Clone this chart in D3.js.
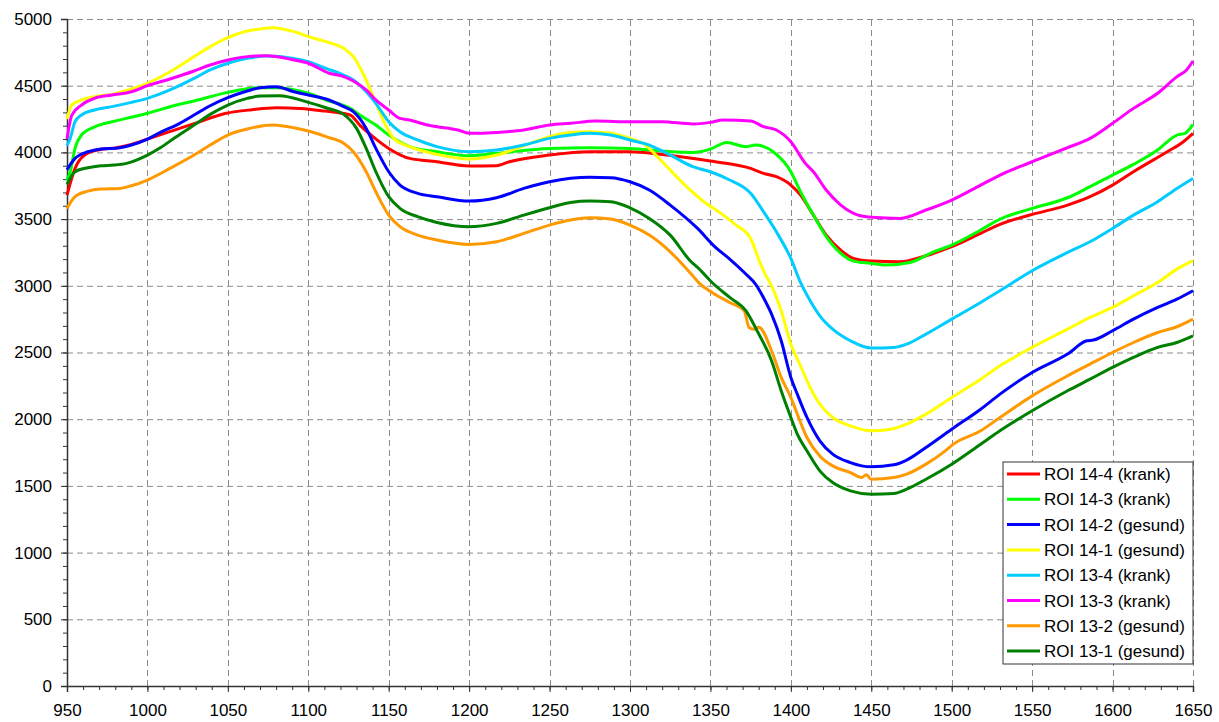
<!DOCTYPE html>
<html>
<head>
<meta charset="utf-8">
<script src="https://cdn.jsdelivr.net/npm/d3@7"></script>
<style>
  body { margin: 0; background: #fff; }
  svg { display: block; font-family: Arial, "Liberation Sans", sans-serif; }
</style>
</head>
<body>
<div id="chart"></div>
<script>
// values, [wavelength, intensity]
const roi144 = [[950,3680],[955,3880],[961,3980],[970,4020],[981,4035],[990,4060],[1000,4100],[1015,4160],[1030,4220],[1049,4293],[1065,4320],[1080,4335],[1095,4330],[1110,4310],[1126,4280],[1132,4205],[1140,4120],[1150,4030],[1163,3955],[1180,3930],[1200,3898],[1217,3900],[1225,3930],[1250,3980],[1275,4005],[1300,4005],[1320,3985],[1350,3935],[1375,3880],[1383,3843],[1391,3818],[1400,3755],[1406,3680],[1414,3530],[1422,3380],[1431,3268],[1439,3205],[1450,3185],[1468,3180],[1484,3225],[1500,3293],[1518,3393],[1530,3460],[1550,3535],[1572,3605],[1586,3668],[1600,3755],[1613,3855],[1634,4005],[1644,4080],[1650,4143]];
const roi143 = [[950,3790],[952,3855],[955,4030],[959,4130],[967,4190],[978,4230],[987,4255],[1000,4293],[1018,4355],[1029,4385],[1050,4450],[1070,4485],[1080,4485],[1100,4443],[1111,4393],[1126,4330],[1132,4280],[1142,4205],[1150,4130],[1163,4043],[1180,4005],[1200,3975],[1217,3993],[1250,4030],[1275,4035],[1300,4030],[1320,4010],[1339,4000],[1350,4025],[1360,4075],[1372,4043],[1378,4055],[1389,4005],[1400,3855],[1406,3705],[1414,3530],[1422,3368],[1431,3243],[1439,3185],[1450,3168],[1459,3155],[1474,3175],[1488,3250],[1500,3305],[1518,3418],[1530,3500],[1550,3580],[1572,3660],[1586,3743],[1600,3830],[1613,3910],[1628,4018],[1640,4130],[1645,4143],[1650,4210]];
const roi142 = [[950,3870],[955,3955],[963,4005],[971,4025],[983,4035],[990,4055],[1000,4100],[1008,4150],[1018,4205],[1029,4280],[1039,4350],[1050,4410],[1062,4460],[1070,4485],[1080,4493],[1091,4455],[1100,4430],[1111,4400],[1122,4343],[1128,4305],[1136,4180],[1142,4030],[1150,3855],[1157,3755],[1168,3693],[1180,3668],[1200,3635],[1217,3660],[1234,3730],[1250,3780],[1275,3813],[1288,3810],[1300,3780],[1312,3718],[1325,3605],[1342,3430],[1353,3290],[1362,3200],[1372,3088],[1378,3013],[1384,2888],[1388,2788],[1394,2588],[1400,2313],[1404,2188],[1410,2013],[1418,1838],[1426,1738],[1437,1675],[1450,1643],[1464,1658],[1472,1693],[1484,1788],[1500,1925],[1518,2075],[1530,2188],[1550,2350],[1572,2488],[1584,2588],[1588,2593],[1600,2663],[1613,2750],[1628,2838],[1640,2900],[1650,2963]];
const roi141 = [[950,4250],[953,4355],[959,4393],[967,4418],[978,4435],[990,4475],[1000,4518],[1014,4605],[1029,4718],[1039,4793],[1050,4860],[1062,4910],[1070,4925],[1078,4935],[1091,4905],[1100,4868],[1111,4830],[1122,4780],[1128,4718],[1134,4593],[1140,4430],[1147,4230],[1153,4105],[1163,4043],[1180,3985],[1200,3950],[1217,3980],[1234,4050],[1250,4118],[1263,4150],[1275,4155],[1288,4143],[1300,4105],[1308,4068],[1320,3930],[1333,3768],[1346,3630],[1358,3530],[1366,3455],[1375,3355],[1381,3168],[1384,3088],[1388,3000],[1394,2813],[1400,2563],[1406,2400],[1412,2238],[1418,2113],[1426,2013],[1437,1950],[1450,1913],[1462,1925],[1472,1963],[1484,2038],[1500,2163],[1518,2300],[1530,2400],[1550,2538],[1572,2675],[1586,2763],[1600,2838],[1613,2925],[1628,3025],[1640,3125],[1650,3188]];
const roi134 = [[950,4050],[952,4105],[955,4230],[959,4280],[967,4318],[978,4343],[990,4375],[1000,4405],[1014,4468],[1029,4555],[1039,4618],[1050,4668],[1062,4705],[1074,4723],[1091,4705],[1100,4680],[1111,4630],[1122,4580],[1128,4543],[1136,4455],[1142,4368],[1150,4230],[1157,4155],[1168,4093],[1180,4043],[1200,4005],[1217,4018],[1234,4055],[1250,4105],[1263,4130],[1275,4143],[1288,4130],[1300,4093],[1312,4055],[1325,3980],[1339,3893],[1350,3855],[1362,3793],[1375,3693],[1383,3555],[1391,3405],[1400,3205],[1406,3025],[1412,2888],[1418,2775],[1426,2675],[1437,2588],[1450,2533],[1464,2538],[1472,2563],[1484,2638],[1500,2750],[1518,2875],[1530,2963],[1550,3113],[1572,3250],[1586,3330],[1600,3430],[1613,3530],[1628,3630],[1640,3730],[1650,3805]];
const roi133 = [[950,4100],[953,4280],[959,4355],[967,4405],[978,4430],[990,4455],[1000,4500],[1014,4550],[1029,4610],[1039,4655],[1050,4693],[1062,4718],[1074,4725],[1091,4693],[1100,4668],[1113,4593],[1122,4568],[1128,4535],[1136,4468],[1142,4393],[1150,4318],[1157,4255],[1163,4243],[1174,4205],[1180,4193],[1193,4168],[1200,4143],[1217,4150],[1234,4168],[1250,4205],[1263,4218],[1279,4235],[1300,4230],[1320,4230],[1339,4213],[1350,4225],[1358,4243],[1375,4235],[1383,4193],[1391,4168],[1400,4080],[1409,3918],[1414,3855],[1422,3718],[1431,3605],[1439,3543],[1450,3513],[1468,3505],[1484,3568],[1500,3643],[1518,3755],[1530,3830],[1550,3930],[1572,4035],[1586,4105],[1600,4218],[1613,4330],[1628,4443],[1640,4568],[1646,4618],[1650,4685]];
const roi132 = [[950,3580],[955,3668],[963,3710],[971,3725],[983,3730],[990,3750],[1000,3793],[1014,3880],[1029,3980],[1039,4055],[1050,4130],[1062,4175],[1078,4205],[1091,4185],[1100,4160],[1111,4118],[1122,4068],[1128,4005],[1136,3855],[1142,3705],[1150,3530],[1157,3443],[1168,3380],[1180,3343],[1200,3310],[1217,3330],[1234,3393],[1250,3455],[1263,3493],[1275,3510],[1288,3500],[1300,3455],[1312,3380],[1325,3255],[1339,3075],[1343,3020],[1351,2950],[1362,2875],[1371,2813],[1374,2688],[1377,2675],[1380,2690],[1388,2513],[1394,2313],[1400,2163],[1404,2038],[1410,1863],[1418,1725],[1426,1650],[1437,1600],[1444,1563],[1447,1583],[1450,1550],[1464,1563],[1472,1588],[1484,1663],[1496,1763],[1501,1813],[1518,1913],[1530,2013],[1550,2175],[1572,2325],[1586,2413],[1600,2500],[1613,2575],[1628,2650],[1640,2693],[1650,2750]];
const roi131 = [[950,3760],[955,3855],[963,3885],[971,3900],[979,3905],[987,3918],[1000,3980],[1008,4035],[1018,4118],[1029,4205],[1039,4285],[1050,4355],[1062,4405],[1070,4423],[1082,4425],[1100,4375],[1111,4335],[1122,4285],[1130,4180],[1136,4030],[1142,3855],[1150,3668],[1157,3580],[1168,3518],[1180,3475],[1200,3443],[1217,3468],[1234,3530],[1250,3585],[1263,3625],[1275,3635],[1288,3630],[1300,3585],[1312,3505],[1325,3380],[1338,3180],[1342,3138],[1351,3025],[1362,2913],[1372,2813],[1379,2663],[1388,2438],[1394,2213],[1400,2013],[1404,1888],[1410,1763],[1418,1613],[1426,1525],[1437,1463],[1450,1438],[1464,1443],[1472,1475],[1484,1550],[1500,1663],[1518,1813],[1530,1913],[1550,2063],[1572,2213],[1586,2300],[1600,2388],[1613,2463],[1628,2538],[1640,2575],[1650,2625]];

const seriesNames = ['ROI 14-4 (krank)', 'ROI 14-3 (krank)', 'ROI 14-2 (gesund)', 'ROI 14-1 (gesund)',
  'ROI 13-4 (krank)', 'ROI 13-3 (krank)', 'ROI 13-2 (gesund)', 'ROI 13-1 (gesund)'];
const seriesValues = [roi144, roi143, roi142, roi141, roi134, roi133, roi132, roi131];
const seriesColors = ['#ff0000', '#00ff00', '#0000ff', '#ffff00', '#00ccff', '#ff00ff', '#ff9900', '#008000'];

const xTicks = d3.range(950, 1651, 50);
const yTicks = d3.range(0, 5001, 500);

const W = 1219, H = 722;
const m = {left: 67, right: 26, top: 19, bottom: 36};

const svg = d3.select('#chart').append('svg')
  .attr('width', W).attr('height', H);

const x = d3.scaleLinear().domain([950, 1650]).range([m.left, W - m.right]);
const y = d3.scaleLinear().domain([0, 5000]).range([H - m.bottom, m.top]);

// dashed grid
const grid = svg.append('g').attr('stroke', '#8c8c8c').attr('stroke-dasharray', '6,4').attr('stroke-width', 1);
grid.selectAll('line.h').data(yTicks.filter(d => d > 0)).join('line').attr('class', 'h')
  .attr('x1', x(950)).attr('x2', x(1650))
  .attr('y1', d => y(d) + 0.5).attr('y2', d => y(d) + 0.5);
grid.selectAll('line.v').data(xTicks.filter(d => d > 950)).join('line').attr('class', 'v')
  .attr('x1', d => Math.round(x(d)) + 0.5).attr('x2', d => Math.round(x(d)) + 0.5)
  .attr('y1', y(0)).attr('y2', y(5000));

// axes
const xAxis = svg.append('g').attr('transform', `translate(0,${y(0)})`)
  .call(d3.axisBottom(x).tickValues(xTicks).tickFormat(d3.format('d')).tickSize(6).tickPadding(12));
const xMinor = svg.append('g').attr('transform', `translate(0,${y(0)})`)
  .call(d3.axisBottom(x).tickValues(d3.range(950, 1651, 10)).tickFormat('').tickSize(4));
const yAxis = svg.append('g').attr('transform', `translate(${x(950)},0)`)
  .call(d3.axisLeft(y).tickValues(yTicks).tickFormat(d3.format('d')).tickSize(6).tickPadding(9));
const yMinor = svg.append('g').attr('transform', `translate(${x(950)},0)`)
  .call(d3.axisLeft(y).tickValues(d3.range(0, 5001, 100)).tickFormat('').tickSize(4));

[xAxis, xMinor, yAxis, yMinor].forEach(g => {
  g.select('.domain').attr('stroke', '#333').attr('stroke-width', 1.5);
  g.selectAll('.tick line').attr('stroke', '#333');
  g.selectAll('.tick text').attr('font-size', 17).attr('fill', '#000')
    .attr('font-family', 'Arial, "Liberation Sans", sans-serif');
});
xMinor.select('.domain').remove();
yMinor.select('.domain').remove();

// lines
const line = d3.line().x(d => x(d[0])).y(d => y(d[1])).curve(d3.curveMonotoneX);
svg.append('g').selectAll('path').data(seriesValues).join('path')
  .attr('d', line)
  .attr('fill', 'none')
  .attr('stroke', (d, i) => seriesColors[i])
  .attr('stroke-width', 3)
  .attr('stroke-linejoin', 'round');

// legend
const lg = svg.append('g').attr('transform', 'translate(1003,462)');
lg.append('rect').attr('width', 190).attr('height', 202)
  .attr('fill', '#fff').attr('stroke', '#333').attr('stroke-width', 1);
const item = lg.selectAll('g.item').data(seriesNames).join('g').attr('class', 'item')
  .attr('transform', (d, i) => `translate(0,${12 + i * 25.3})`);
item.append('line').attr('x1', 4).attr('x2', 37)
  .attr('stroke', (d, i) => seriesColors[i]).attr('stroke-width', 3);
item.append('text').attr('x', 41).attr('dy', '0.36em')
  .attr('font-size', 17).text(d => d);
</script>
</body>
</html>
